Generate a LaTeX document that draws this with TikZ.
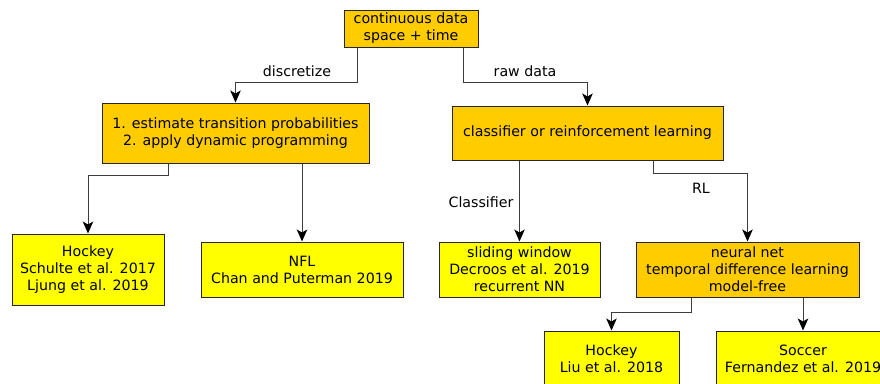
\documentclass[tikz,border=0pt]{standalone}
\usepackage{fontspec}
\setmainfont{DejaVu Sans}
\usetikzlibrary{arrows.meta,calc}
\definecolor{boxorange}{RGB}{255,204,0}
\definecolor{boxyellow}{RGB}{255,255,0}
\definecolor{linegray}{RGB}{60,60,60}
\tikzset{
  basebox/.style={draw=black!85, line width=1pt, align=center, inner sep=0pt,
    font=\fontsize{14.2}{17}\selectfont},
  obox/.style={basebox, fill=boxorange},
  ybox/.style={basebox, fill=boxyellow},
  conn/.style={draw=linegray, line width=1pt, -{Stealth[length=12pt,width=10.5pt,inset=3pt,color=black]}},
  lbl/.style={font=\fontsize{14.2}{17}\selectfont, inner sep=0pt}
}
\begin{document}
\begin{tikzpicture}[x=1pt,y=-1pt]
\useasboundingbox (0,0) rectangle (880,383);
\clip (0,0) rectangle (880,383);
\node[obox, minimum width=134pt, minimum height=37pt] (top) at (411,28.5) {continuous data\\space + time};
\node[obox, minimum width=267pt, minimum height=60pt] (dp) at (235.5,133) {1. estimate transition probabilities\\2. apply dynamic programming};
\node[obox, minimum width=271pt, minimum height=54pt] (crl) at (587.5,133) {classifier or reinforcement learning};
\node[ybox, minimum width=152pt, minimum height=71pt] (hk1) at (88,269.5) {Hockey\\Schulte et al. 2017\\Ljung et al. 2019};
\node[ybox, minimum width=202pt, minimum height=55pt] (nfl) at (302,269.5) {NFL\\Chan and Puterman 2019};
\node[ybox, minimum width=161pt, minimum height=55pt] (sw) at (519.5,269.5) {sliding window\\Decroos et al. 2019\\recurrent NN};
\node[obox, minimum width=223pt, minimum height=55pt] (nn) at (747.5,269.5) {neural net\\temporal difference learning\\model-free};
\node[ybox, minimum width=135pt, minimum height=55pt] (hk2) at (611.5,358.5) {Hockey\\Liu et al. 2018};
\node[ybox, minimum width=174pt, minimum height=55pt] (soc) at (803,358.5) {Soccer\\Fernandez et al. 2019};

\draw[conn] ([xshift=14pt]top.south west) -- ++(0,35) -| (dp.north);
\draw[conn] ([xshift=-15pt]top.south east) -- ++(0,35) -| (crl.north);
\node[lbl] (l1) at (297,71) {discretize};
\node[lbl] (l2) at (525,71) {raw data};

\draw[conn] ([xshift=67pt]dp.south west) -- ++(0,12) -| (hk1.north);
\draw[conn] (dp.south -| nfl.north) -- (nfl.north);

\draw[conn] (crl.south -| sw.north) -- (sw.north);
\draw[conn] ([xshift=202pt]crl.south west) -- ++(0,13) -| (nn.north);
\node[lbl] (l3) at (481,202) {Classifier};
\node[lbl] (l4) at (701,188) {RL};

\draw[conn] ([xshift=56pt]nn.south west) -- ++(0,15) -| (hk2.north);
\draw[conn] (nn.south -| soc.north) -- (soc.north);
\end{tikzpicture}
\end{document}
